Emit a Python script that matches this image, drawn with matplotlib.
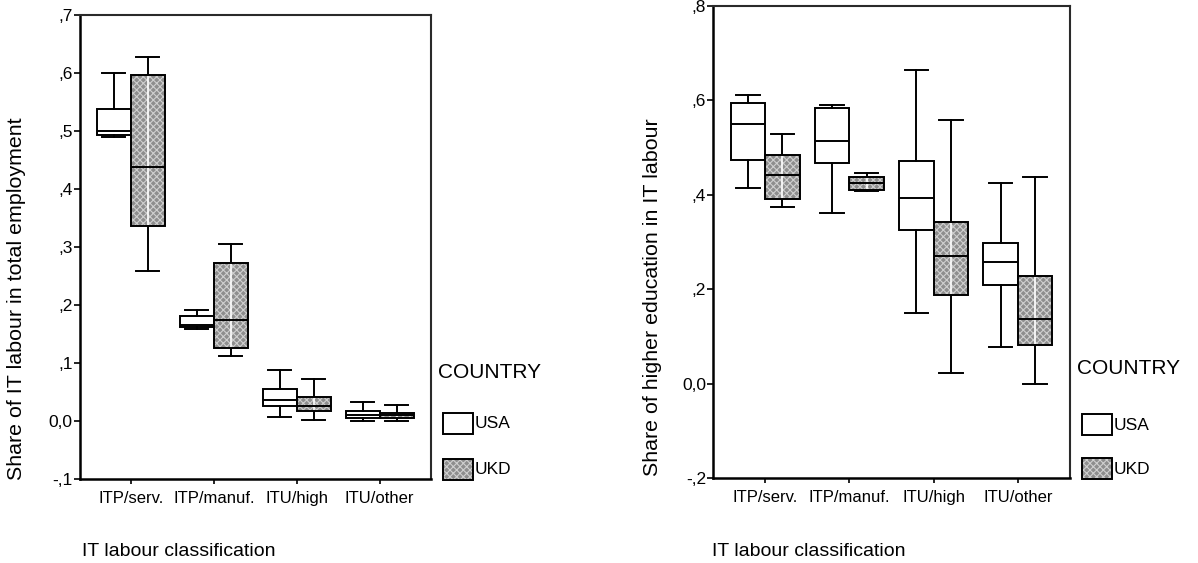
import matplotlib
matplotlib.use("Agg")
import matplotlib.pyplot as plt
from matplotlib.patches import PathPatch, Rectangle

plt.rcParams['font.family'] = ['Liberation Sans', 'DejaVu Sans']
plt.rcParams['hatch.linewidth'] = 0.8

# ---------------- data ----------------
categories = ["ITP/serv.", "ITP/manuf.", "ITU/high", "ITU/other"]
countries = ["USA", "UKD"]

# Panel 1: Share of IT labour in total employment  (whislo, q1, med, q3, whishi)
emp_usa_lo  = [0.489, 0.158, 0.007, 0.000]
emp_usa_q1  = [0.493, 0.163, 0.026, 0.005]
emp_usa_med = [0.499, 0.166, 0.037, 0.010]
emp_usa_q3  = [0.538, 0.182, 0.055, 0.018]
emp_usa_hi  = [0.600, 0.192, 0.089, 0.033]

emp_ukd_lo  = [0.259, 0.113, 0.002, 0.000]
emp_ukd_q1  = [0.337, 0.126, 0.017, 0.006]
emp_ukd_med = [0.438, 0.175, 0.027, 0.010]
emp_ukd_q3  = [0.597, 0.272, 0.042, 0.015]
emp_ukd_hi  = [0.627, 0.305, 0.073, 0.028]

# Panel 2: Share of higher education in IT labour
edu_usa_lo  = [0.414, 0.362, 0.151, 0.078]
edu_usa_q1  = [0.474, 0.468, 0.326, 0.210]
edu_usa_med = [0.551, 0.514, 0.394, 0.258]
edu_usa_q3  = [0.594, 0.584, 0.472, 0.298]
edu_usa_hi  = [0.611, 0.591, 0.664, 0.425]

edu_ukd_lo  = [0.374, 0.408, 0.023, 0.000]
edu_ukd_q1  = [0.391, 0.411, 0.189, 0.082]
edu_ukd_med = [0.442, 0.425, 0.271, 0.137]
edu_ukd_q3  = [0.484, 0.438, 0.342, 0.228]
edu_ukd_hi  = [0.530, 0.447, 0.558, 0.438]

emp_yticks = [-0.1, 0.0, 0.1, 0.2, 0.3, 0.4, 0.5, 0.6, 0.7]
emp_ylabels = ["-,1", "0,0", ",1", ",2", ",3", ",4", ",5", ",6", ",7"]
edu_yticks = [-0.2, 0.0, 0.2, 0.4, 0.6, 0.8]
edu_ylabels = ["-,2", "0,0", ",2", ",4", ",6", ",8"]

# ---------------- style ----------------
W, H = 1198, 563
fig = plt.figure(figsize=(W / 100, H / 100), dpi=100)

BOXW = 0.41
OFF = 0.205
UKD_FACE = "#8e8e8e"
UKD_HATCH = "#cfcfcf"


def stats(lo, q1, med, q3, hi):
    return [dict(whislo=a, q1=b, med=c, q3=d, whishi=e, fliers=[])
            for a, b, c, d, e in zip(lo, q1, med, q3, hi)]


def draw_panel(ax, usa, ukd, yticks, ylabels, ylim):
    pos = list(range(len(categories)))
    common = dict(widths=BOXW, patch_artist=True, showfliers=False,
                  whiskerprops=dict(color="black", lw=1.4),
                  capprops=dict(color="black", lw=1.4),
                  medianprops=dict(color="black", lw=1.4),
                  capwidths=BOXW * 0.68)
    ax.bxp(stats(*usa), positions=[p - OFF for p in pos],
           boxprops=dict(facecolor="white", edgecolor="black", lw=1.4),
           **common)
    r = ax.bxp(stats(*ukd), positions=[p + OFF for p in pos],
               boxprops=dict(facecolor=UKD_FACE, edgecolor=UKD_HATCH, lw=0,
                             hatch="xxxxx"),
               **common)
    # white centre line through the UKD boxes, then crisp black outline
    ax.vlines([p + OFF for p in pos], ukd[1], ukd[3], color="white", lw=1.2,
              zorder=2.5)
    for b in r["boxes"]:
        ax.add_patch(PathPatch(b.get_path(), transform=ax.transData,
                               facecolor="none", edgecolor="black", lw=1.4,
                               zorder=3))
    for m in r["medians"]:
        m.set_zorder(4)

    ax.set_xlim(-0.618, len(categories) - 1 + 0.618)
    ax.set_ylim(*ylim)
    ax.set_xticks(pos)
    ax.set_xticklabels(categories, fontsize=12)
    ax.set_yticks(yticks)
    ax.set_yticklabels(ylabels, fontsize=12.5)
    ax.tick_params(axis="y", direction="out", length=4, width=1.2,
                   color="black", pad=1)
    ax.tick_params(axis="x", direction="out", length=3.5, width=1.2,
                   color="black", pad=5)
    for s in ("left", "bottom"):
        ax.spines[s].set_linewidth(1.8)
        ax.spines[s].set_color("black")
    for s in ("top", "right"):
        ax.spines[s].set_linewidth(1.5)
        ax.spines[s].set_color("#2a2a2a")


def fx(px):
    return px / W


def fy(py):
    return 1 - py / H


# Left panel
ax1 = fig.add_axes([fx(79.5), fy(479.3), fx(431 - 79.5), (479.3 - 14.7) / H])
draw_panel(ax1,
           (emp_usa_lo, emp_usa_q1, emp_usa_med, emp_usa_q3, emp_usa_hi),
           (emp_ukd_lo, emp_ukd_q1, emp_ukd_med, emp_ukd_q3, emp_ukd_hi),
           emp_yticks, emp_ylabels, (-0.1, 0.7))

# Right panel
ax2 = fig.add_axes([fx(713), fy(478.3), fx(1070 - 713), (478.3 - 6) / H])
draw_panel(ax2,
           (edu_usa_lo, edu_usa_q1, edu_usa_med, edu_usa_q3, edu_usa_hi),
           (edu_ukd_lo, edu_ukd_q1, edu_ukd_med, edu_ukd_q3, edu_ukd_hi),
           edu_yticks, edu_ylabels, (-0.2, 0.8))

# Axis titles
fig.text(fx(17), fy(299), "Share of IT labour in total employment",
         rotation=90, ha="center", va="center", fontsize=15.4)
fig.text(fx(653), fy(297), "Share of higher education in IT labour",
         rotation=90, ha="center", va="center", fontsize=15.4)
fig.text(fx(82), fy(551), "IT labour classification", ha="left",
         va="center", fontsize=14)
fig.text(fx(712), fy(551), "IT labour classification", ha="left",
         va="center", fontsize=14)


# Legends
def legend(x0, ytitle, yusa, yukd):
    fig.text(fx(x0), fy(ytitle), "COUNTRY", ha="left", va="center",
             fontsize=15)
    bw, bh = 30, 21
    fig.patches.append(Rectangle((fx(x0 + 5), fy(yusa + bh / 2)), fx(bw),
                                 bh / H, transform=fig.transFigure,
                                 facecolor="white", edgecolor="black",
                                 lw=1.4))
    fig.patches.append(Rectangle((fx(x0 + 5), fy(yukd + bh / 2)), fx(bw),
                                 bh / H, transform=fig.transFigure,
                                 facecolor=UKD_FACE, edgecolor=UKD_HATCH,
                                 lw=0, hatch="xxxxx"))
    fig.patches.append(Rectangle((fx(x0 + 5), fy(yukd + bh / 2)), fx(bw),
                                 bh / H, transform=fig.transFigure,
                                 facecolor="none", edgecolor="black",
                                 lw=1.4))
    fig.text(fx(x0 + 37), fy(yusa + 1), countries[0], ha="left",
             va="center", fontsize=12.5)
    fig.text(fx(x0 + 37), fy(yukd + 1), countries[1], ha="left",
             va="center", fontsize=12.5)


legend(438, 372, 423, 469)
legend(1077, 369, 424, 468)

fig.savefig("out.png", dpi=100)
